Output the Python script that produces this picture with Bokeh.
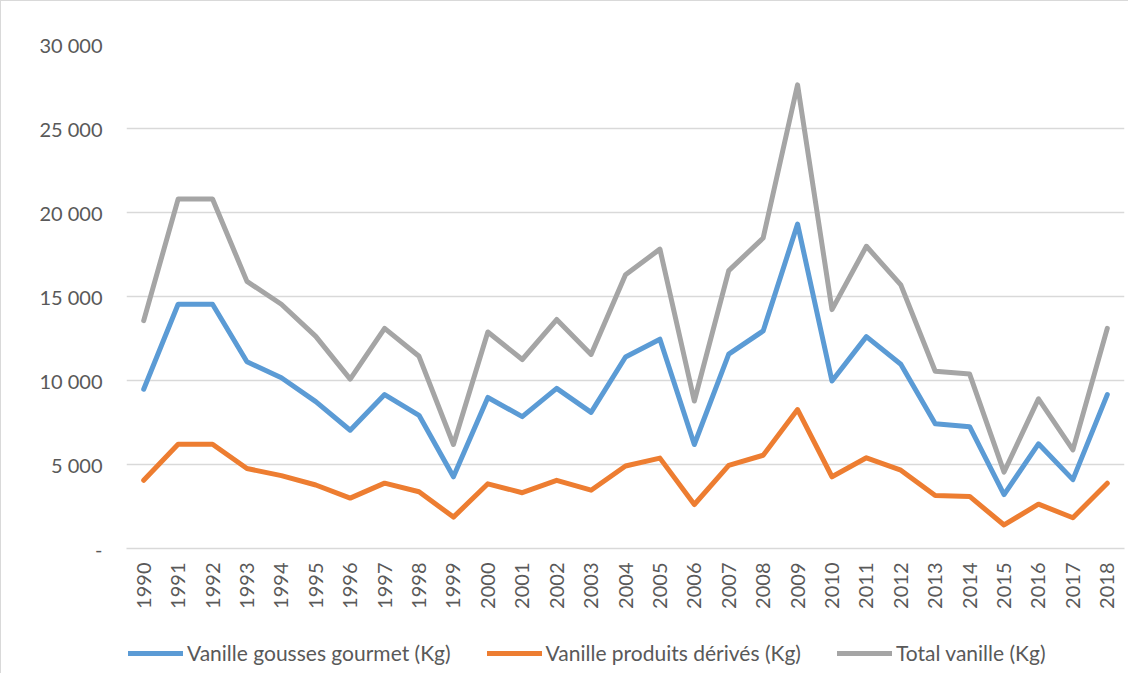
from bokeh.plotting import figure
from bokeh.layouts import column
from bokeh.models import FactorRange, Range1d, FixedTicker, Legend, LegendItem
from bokeh.embed import file_html
from bokeh.resources import INLINE
import math

years = [str(y) for y in range(1990, 2019)]

gousses = [9480, 14540, 14540, 11120, 10160, 8740, 7040, 9160, 7930, 4270,
           8990, 7850, 9530, 8100, 11400, 12460, 6190, 11570, 12950, 19310,
           9970, 12610, 10970, 7420, 7250, 3210, 6230, 4100, 9160]
derives = [4060, 6210, 6210, 4760, 4340, 3780, 3000, 3890, 3380, 1870,
           3850, 3320, 4060, 3470, 4910, 5380, 2620, 4950, 5550, 8270,
           4270, 5400, 4660, 3150, 3100, 1400, 2640, 1830, 3890]
total = [13560, 20800, 20800, 15900, 14540, 12630, 10080, 13100, 11440, 6190,
         12890, 11250, 13630, 11550, 16290, 17820, 8780, 16540, 18480, 27600,
         14220, 17990, 15690, 10550, 10380, 4550, 8910, 5870, 13100]

series_names = ["Vanille gousses gourmet (Kg)", "Vanille produits dérivés (Kg)", "Total vanille (Kg)"]
series_colors = ["#5b9bd5", "#ed7d31", "#a5a5a5"]

y_ticks = [0, 5000, 10000, 15000, 20000, 25000, 30000]
y_tick_labels = ["-", "5 000", "10 000", "15 000", "20 000", "25 000", "30 000"]

FONT = "Lato"
TXT = "#595959"
GRID = "#d9d9d9"

xr = FactorRange(*years, range_padding=0)

p = figure(x_range=xr, y_range=Range1d(0, 30000),
           width=1128, height=639, output_backend="svg", toolbar_location=None,
           min_border_left=125, min_border_right=5, min_border_top=43, min_border_bottom=92)
p.styles = {"border-left": "1px solid #d9d9d9", "border-top": "1px solid #d9d9d9"}
p.outline_line_color = None

for vals, col in zip([gousses, derives, total], series_colors):
    p.line(years, vals, line_color=col, line_width=5, line_join="round", line_cap="round")

p.yaxis.ticker = FixedTicker(ticks=y_ticks)
p.yaxis.major_label_overrides = {t: l for t, l in zip(y_ticks, y_tick_labels)}
p.yaxis.axis_line_color = None
p.yaxis.major_tick_line_color = None
p.yaxis.major_tick_out = 0
p.yaxis.minor_tick_line_color = None
p.yaxis.major_label_standoff = 24
p.yaxis.major_label_text_font = FONT
p.yaxis.major_label_text_font_size = "20px"
p.yaxis.major_label_text_color = TXT

p.xaxis.axis_line_color = GRID
p.xaxis.axis_line_width = 1.5
p.xaxis.major_tick_line_color = None
p.xaxis.major_tick_out = 0
p.xaxis.minor_tick_line_color = None
p.xaxis.major_label_orientation = math.pi / 2
p.xaxis.major_label_standoff = 14
p.xaxis.major_label_text_font = FONT
p.xaxis.major_label_text_font_size = "20px"
p.xaxis.major_label_text_color = TXT

p.xgrid.grid_line_color = None
p.ygrid.grid_line_color = GRID
p.ygrid.grid_line_width = 1.5

# Legend strip: same series, drawn outside its visible y-range so only the legend shows
lg = figure(x_range=xr, y_range=Range1d(-3, -2), width=1128, height=34,
            output_backend="svg", toolbar_location=None,
            x_axis_location=None, y_axis_location=None,
            min_border_left=0, min_border_right=0, min_border_top=0, min_border_bottom=0)
lg.styles = {"border-left": "1px solid #d9d9d9"}
lg.outline_line_color = None
lg.xgrid.grid_line_color = None
lg.ygrid.grid_line_color = None
lg_renderers = []
for vals, col in zip([gousses, derives, total], series_colors):
    r = lg.line(years, vals, line_color=col, line_width=5, line_join="round", line_cap="round")
    lg_renderers.append(r)

legend = Legend(items=[LegendItem(label=n, renderers=[r]) for n, r in zip(series_names, lg_renderers)],
                orientation="horizontal", location=(2, 8),
                glyph_width=55, glyph_height=20, label_height=20, label_standoff=4, spacing=36,
                label_text_font=FONT, label_text_font_size="21px", label_text_color=TXT,
                border_line_color=None, background_fill_alpha=0, margin=0, padding=0)
lg.add_layout(legend, "center")

layout = column(p, lg, spacing=0)
open("out.html", "w").write(file_html(layout, INLINE))
